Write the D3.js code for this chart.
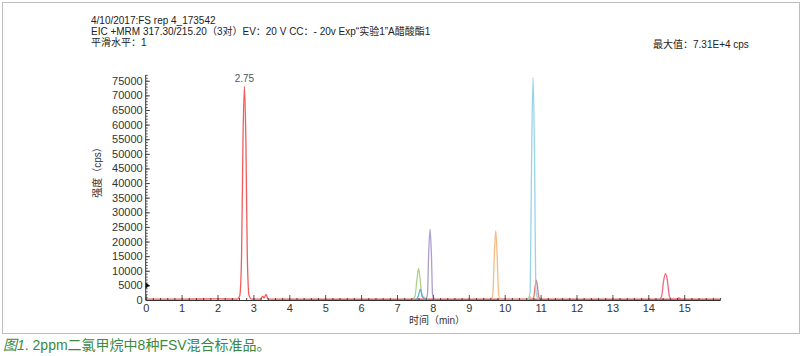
<!DOCTYPE html>
<html>
<head>
<meta charset="utf-8">
<script src="https://cdn.jsdelivr.net/npm/d3@7"></script>
<style>
  body { margin: 0; background: #fff; }
  svg { display: block; font-family: "Liberation Sans", Arial, "Noto Sans CJK SC", sans-serif; }
</style>
</head>
<body>
<svg width="805" height="356"></svg>
<script>
// header texts
var titleLines = [
  "4/10/2017:FS rep 4_173542",
  "EIC +MRM 317.30/215.20（3对）EV：20 V CC：- 20v Exp“实验1”A醋酸酯1",
  "平滑水平：1"
];
var maxText = "最大值：7.31E+4 cps";
var peakLabel = { t: 2.75, v: 73100, text: "2.75" };

// axis ticks
var xTicks = [0, 1, 2, 3, 4, 5, 6, 7, 8, 9, 10, 11, 12, 13, 14, 15];
var yTicks = [0, 5000, 10000, 15000, 20000, 25000, 30000, 35000, 40000, 45000, 50000, 55000, 60000, 65000, 70000, 75000];

// traces, [time (min), intensity (cps)]
var redTrace = [[0, 300], [1, 300], [2, 400], [2.55, 300], [2.62, 1500], [2.67, 15000], [2.71, 55000], [2.75, 73100],
  [2.79, 55000], [2.83, 15000], [2.88, 1500], [2.95, 300], [3.2, 300], [3.26, 1300], [3.3, 700], [3.35, 1900],
  [3.41, 300], [5, 250], [7, 250], [9, 250], [11, 250], [13, 250], [16, 250]];
var greenTrace = [[7.42, 0], [7.5, 1200], [7.56, 7500], [7.6, 10800], [7.64, 7500], [7.7, 1200], [7.76, 900], [7.8, 300], [7.86, 0]];
var blueTrace = [[7.52, 0], [7.59, 1200], [7.65, 3650], [7.71, 1200], [7.78, 0]];
var purpleTrace = [[7.8, 0], [7.85, 2000], [7.88, 15000], [7.92, 24200], [7.96, 15000], [7.99, 2000], [8.05, 0]];
var orangeTrace = [[9.62, 0], [9.67, 2000], [9.71, 15000], [9.75, 23700], [9.79, 15000], [9.83, 2000], [9.88, 0],
  [10.62, 0], [10.7, 1200], [10.76, 400], [10.82, 0]];
var cyanTrace = [[10.66, 0], [10.71, 3000], [10.75, 50000], [10.79, 76100], [10.83, 50000], [10.87, 3000], [10.93, 0]];
var brownTrace = [[10.76, 0], [10.81, 1000], [10.85, 4800], [10.88, 6800], [10.91, 4800], [10.95, 1000], [11.02, 0]];
var pinkTrace = [[14.3, 0], [14.37, 1200], [14.43, 6800], [14.48, 9100], [14.53, 6800], [14.59, 1200], [14.66, 200],
  [14.78, 200], [14.85, 700], [14.92, 200], [15.05, 0]];

var series = [
  { data: redTrace, color: "#f24a4a" },
  { data: greenTrace, color: "#a6cb80" },
  { data: blueTrace, color: "#5aa3cf" },
  { data: purpleTrace, color: "#a393cb" },
  { data: orangeTrace, color: "#f6b578" },
  { data: brownTrace, color: "#d86c68" },
  { data: cyanTrace, color: "#8ccfe4" },
  { data: pinkTrace, color: "#ee5877" }
];

var svg = d3.select("svg");

// frame
svg.append("rect")
    .attr("x", 2.5).attr("y", 2.5)
    .attr("width", 797).attr("height", 331)
    .attr("fill", "none")
    .attr("stroke", "#bdbdbd");

var x = d3.scaleLinear().domain([0, 16]).range([145.7, 720.1]);
var y = d3.scaleLinear().domain([0, 77000]).range([300, 74.9]);

// header
svg.append("g").selectAll("text")
    .data(titleLines)
    .enter().append("text")
    .attr("x", 91)
    .attr("y", function(d, i) { return 24 + i * 11; })
    .attr("font-size", 10)
    .attr("fill", "#222")
    .text(function(d) { return d; });

svg.append("text")
    .attr("x", 653).attr("y", 48)
    .attr("font-size", 10)
    .attr("fill", "#222")
    .text(maxText);

// traces
var line = d3.line()
    .x(function(d) { return x(d[0]); })
    .y(function(d) { return y(d[1]); })
    .curve(d3.curveMonotoneX);

var traces = svg.append("g").attr("class", "traces");
series.forEach(function(s) {
  traces.append("path")
      .datum(s.data)
      .attr("d", line)
      .attr("fill", "none")
      .attr("stroke", s.color)
      .attr("stroke-width", 1.3)
      .attr("stroke-opacity", 0.9)
      .attr("stroke-linejoin", "round");
});

// peak label
svg.append("text")
    .attr("x", x(peakLabel.t))
    .attr("y", y(peakLabel.v) - 4)
    .attr("text-anchor", "middle")
    .attr("font-size", 10)
    .attr("fill", "#555")
    .text(peakLabel.text);

// y axis
var yAxis = svg.append("g")
    .attr("transform", "translate(" + x(0) + ",0)")
    .call(d3.axisLeft(y).tickValues(yTicks).tickFormat(d3.format("d"))
      .tickSizeInner(-4).tickSizeOuter(0).tickPadding(3));
yAxis.select(".domain").attr("stroke", "#333").attr("d", "M0," + y(77000) + "V" + y(0));
yAxis.selectAll("text").attr("font-size", 11).attr("fill", "#333").attr("font-family", "Liberation Sans, Arial, sans-serif");
yAxis.selectAll("line").attr("stroke", "#333");

svg.append("g")
    .attr("transform", "translate(" + x(0) + ",0)")
    .call(d3.axisLeft(y).tickValues(d3.range(0, 77001, 1000)).tickSize(-2).tickFormat(""))
    .call(function(g) { g.select(".domain").remove(); })
    .selectAll("line").attr("stroke", "#555");

// x axis
var xAxis = svg.append("g")
    .attr("transform", "translate(0," + y(0) + ")")
    .call(d3.axisBottom(x).tickValues(xTicks).tickSizeInner(-5).tickSizeOuter(0).tickPadding(4));
xAxis.select(".domain").attr("stroke", "#333").attr("stroke-width", 1.2);
xAxis.selectAll("text").attr("font-size", 11).attr("fill", "#333").attr("font-family", "Liberation Sans, Arial, sans-serif");
xAxis.selectAll("line").attr("stroke", "#555");

svg.append("g")
    .attr("transform", "translate(0," + y(0) + ")")
    .call(d3.axisBottom(x).tickValues(d3.range(0, 16.01, 0.2)).tickSize(-2).tickFormat(""))
    .call(function(g) { g.select(".domain").remove(); })
    .selectAll("line").attr("stroke", "#444");

// marker on y axis
svg.append("path")
    .attr("d", "M" + x(0) + "," + (y(5000) - 3) + "L" + (x(0) + 4) + "," + y(5000) + "L" + x(0) + "," + (y(5000) + 3) + "Z")
    .attr("fill", "#111");

// axis titles
svg.append("text")
    .attr("transform", "translate(101,170) rotate(-90)")
    .attr("text-anchor", "middle")
    .attr("font-size", 10)
    .attr("fill", "#333")
    .text("强度（cps）");

svg.append("text")
    .attr("x", 409).attr("y", 324)
    .attr("font-size", 10)
    .attr("fill", "#333")
    .text("时间（min）");

// caption
var cap = svg.append("text")
    .attr("x", 3).attr("y", 350)
    .attr("font-size", 14)
    .attr("fill", "#3a8a3f");
cap.append("tspan").attr("font-style", "italic").text("图1");
cap.append("tspan").text(". 2ppm二氯甲烷中8种FSV混合标准品。");
</script>
</body>
</html>
